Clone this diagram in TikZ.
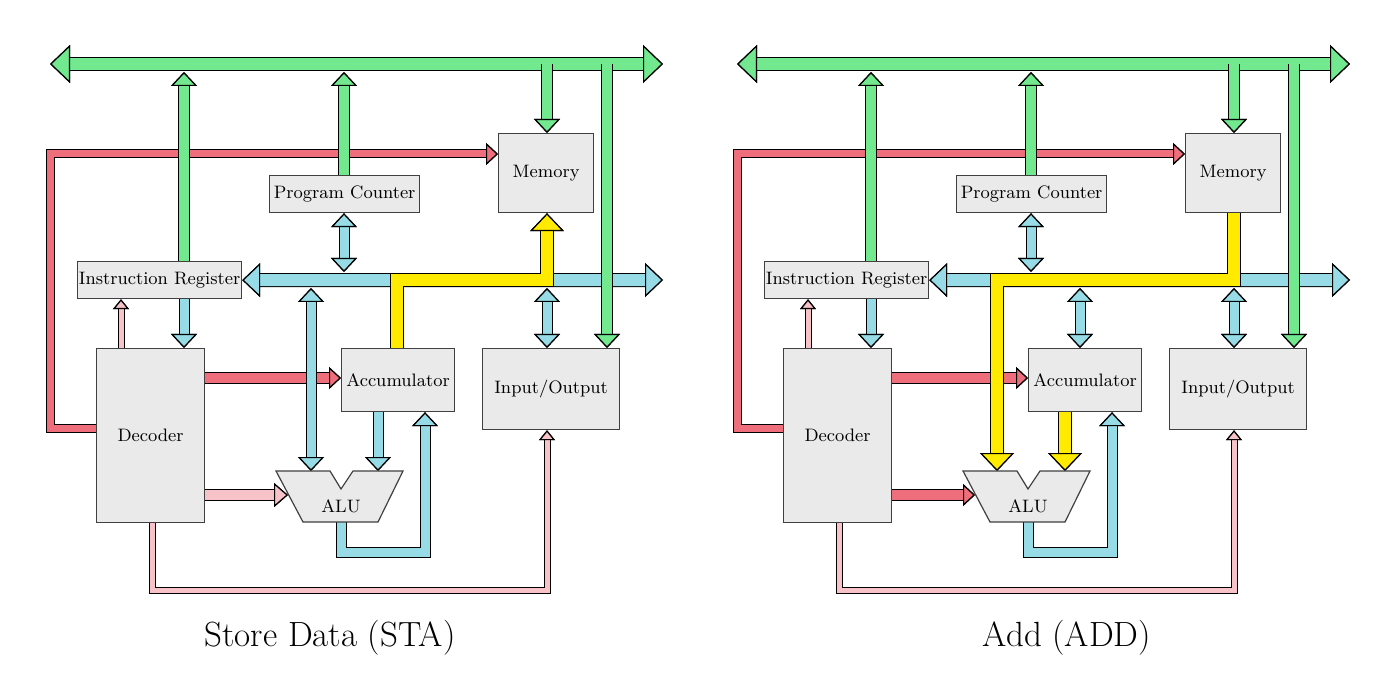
\documentclass[tikz,border=0pt]{standalone}
\usetikzlibrary{arrows.meta}
\definecolor{cg}{HTML}{72E88F}
\definecolor{cb}{HTML}{96DBE5}
\definecolor{cy}{HTML}{FFEA00}
\definecolor{cr}{HTML}{EE6E7C}
\definecolor{cp}{HTML}{F7C3C9}
\definecolor{bx}{HTML}{EAEAEA}
\begin{document}
\begin{tikzpicture}[x=0.5pt,y=-0.5pt,line cap=butt,line join=miter,
  ol/.style n args={3}{line width=#1+1pt,draw=black,>={Triangle[length=#2,width=#3,fill=black,color=black,line width=0.6pt]}},
  fl/.style n args={4}{line width=#1,draw=#4,>={Triangle[length=#2,width=#3,fill=#4,color=black,line width=0.6pt]}},
  box/.style={draw=black!75,fill=bx,line width=0.6pt,anchor=north west,inner sep=0pt,font=\fontsize{9}{10}\selectfont},
  ttl/.style={font=\fontsize{17.5}{20}\selectfont}]
\useasboundingbox (0,0) rectangle (1400,683);

\newcommand\pipes[5]{%
  \begin{scope}[ol={#1}{#2}{#3}]#5\end{scope}
  \begin{scope}[fl={#1}{#2}{#3}{#4}]#5\end{scope}}

% =========== LEFT : STA ===========
\begin{scope}
\node[box,minimum width=82pt,minimum height=18.5pt] (a-ir) at (77,261) {};
\node[box,minimum width=75pt,minimum height=18.5pt] (a-pc) at (269,175) {};
\node[box,minimum width=47.5pt,minimum height=39.5pt] (a-mem) at (498,133) {};
\node[box,minimum width=54pt,minimum height=87pt] (a-dec) at (96,348) {};
\node[box,minimum width=56.5pt,minimum height=31.5pt] (a-acc) at (341,348) {};
\node[box,minimum width=68.5pt,minimum height=40.5pt] (a-io) at (482,348) {};

\pipes{3.5pt}{6pt}{11pt}{cr}{
  \draw[->] (a-dec.west |- 0,428) -- (50,428) -- (50,154) -- (a-mem.west |- 0,154);}
\pipes{5pt}{6pt}{11pt}{cr}{\draw[->] (a-dec.east |- 0,378) -- (a-acc.west |- 0,378);}
\pipes{2.5pt}{5pt}{8pt}{cp}{
  \draw[->] (121,0 |- a-dec.north) -- (121,0 |- a-ir.south);
  \draw[->] (152,0 |- a-dec.south) -- (152,590) -- (547,590) -- (547,0 |- a-io.south);}
\pipes{5pt}{7pt}{12pt}{cp}{\draw[->] (a-dec.east |- 0,495) -- (288,495);}
\pipes{6pt}{9pt}{17pt}{cb}{\draw[<->] (a-ir.east) -- (663,280);}
\pipes{4.5pt}{7pt}{13pt}{cb}{
  \draw[<->] (344,0 |- a-pc.south) -- (344,272);
  \draw[->] (184,0 |- a-ir.south) -- (184,0 |- a-dec.north);
  \draw[<->] (311,288) -- (311,471);
  \draw[<->] (547,288) -- (547,0 |- a-io.north);
  \draw[->] (378,0 |- a-acc.south) -- (378,471);
  \draw[->] (341,522) -- (341,552) -- (425,552) -- (425,0 |- a-acc.south);}
\pipes{6pt}{10pt}{19pt}{cg}{\draw[<->] (50,64) -- (663,64);}
\pipes{5pt}{7pt}{13pt}{cg}{
  \draw[->] (184,0 |- a-ir.north) -- (184,72);
  \draw[->] (344,0 |- a-pc.north) -- (344,72);
  \draw[->] (547,64) -- (547,0 |- a-mem.north);
  \draw[->] (607,64) -- (607,0 |- a-io.north);}
\pipes{6pt}{9pt}{17pt}{cy}{
  \draw[->] (397,0 |- a-acc.north) -- (397,280) -- (547,280) -- (547,0 |- a-mem.south);}
\node[box,minimum width=82pt,minimum height=18.5pt] at (77,261) {Instruction Register};
\node[box,minimum width=75pt,minimum height=18.5pt] at (269,175) {Program Counter};
\node[box,minimum width=47.5pt,minimum height=39.5pt] at (498,133) {Memory};
\node[box,minimum width=54pt,minimum height=87pt] at (96,348) {Decoder};
\node[box,minimum width=56.5pt,minimum height=31.5pt] at (341,348) {Accumulator};
\node[box,minimum width=68.5pt,minimum height=40.5pt] at (482,348) {Input/Output};
\draw[draw=black!75,fill=bx,line width=0.6pt] (276,471) -- (330,471) -- (341,489) -- (353,471) -- (403,471) -- (378,522) -- (303,522) -- cycle;
\node[font=\fontsize{9}{10}\selectfont] (a-alut) at (341,506) {ALU};
\node[ttl] (a-title) at (330,638) {Store Data (STA)};
\end{scope}

% =========== RIGHT : ADD ===========
\begin{scope}[shift={(687,0)}]
\node[box,minimum width=82pt,minimum height=18.5pt] (b-ir) at (77,261) {};
\node[box,minimum width=75pt,minimum height=18.5pt] (b-pc) at (269,175) {};
\node[box,minimum width=47.5pt,minimum height=39.5pt] (b-mem) at (498,133) {};
\node[box,minimum width=54pt,minimum height=87pt] (b-dec) at (96,348) {};
\node[box,minimum width=56.5pt,minimum height=31.5pt] (b-acc) at (341,348) {};
\node[box,minimum width=68.5pt,minimum height=40.5pt] (b-io) at (482,348) {};

\pipes{3.5pt}{6pt}{11pt}{cr}{
  \draw[->] (b-dec.west |- 0,428) -- (50,428) -- (50,154) -- (b-mem.west |- 0,154);}
\pipes{5pt}{6pt}{11pt}{cr}{
  \draw[->] (b-dec.east |- 0,378) -- (b-acc.west |- 0,378);
  \draw[->] (b-dec.east |- 0,495) -- (288,495);}
\pipes{2.5pt}{5pt}{8pt}{cp}{
  \draw[->] (121,0 |- b-dec.north) -- (121,0 |- b-ir.south);
  \draw[->] (152,0 |- b-dec.south) -- (152,590) -- (547,590) -- (547,0 |- b-io.south);}
\pipes{6pt}{9pt}{17pt}{cb}{\draw[<->] (b-ir.east) -- (663,280);}
\pipes{4.5pt}{7pt}{13pt}{cb}{
  \draw[<->] (344,0 |- b-pc.south) -- (344,272);
  \draw[->] (184,0 |- b-ir.south) -- (184,0 |- b-dec.north);
  \draw[<->] (393,288) -- (393,0 |- b-acc.north);
  \draw[<->] (547,288) -- (547,0 |- b-io.north);
  \draw[->] (341,522) -- (341,552) -- (425,552) -- (425,0 |- b-acc.south);}
\pipes{6pt}{10pt}{19pt}{cg}{\draw[<->] (50,64) -- (663,64);}
\pipes{5pt}{7pt}{13pt}{cg}{
  \draw[->] (184,0 |- b-ir.north) -- (184,72);
  \draw[->] (344,0 |- b-pc.north) -- (344,72);
  \draw[->] (547,64) -- (547,0 |- b-mem.north);
  \draw[->] (607,64) -- (607,0 |- b-io.north);}
\pipes{6pt}{9pt}{17pt}{cy}{
  \draw[->] (547,0 |- b-mem.south) -- (547,280) -- (310,280) -- (310,471);
  \draw[->] (378,0 |- b-acc.south) -- (378,471);}
\node[box,minimum width=82pt,minimum height=18.5pt] at (77,261) {Instruction Register};
\node[box,minimum width=75pt,minimum height=18.5pt] at (269,175) {Program Counter};
\node[box,minimum width=47.5pt,minimum height=39.5pt] at (498,133) {Memory};
\node[box,minimum width=54pt,minimum height=87pt] at (96,348) {Decoder};
\node[box,minimum width=56.5pt,minimum height=31.5pt] at (341,348) {Accumulator};
\node[box,minimum width=68.5pt,minimum height=40.5pt] at (482,348) {Input/Output};
\draw[draw=black!75,fill=bx,line width=0.6pt] (276,471) -- (330,471) -- (341,489) -- (353,471) -- (403,471) -- (378,522) -- (303,522) -- cycle;
\node[font=\fontsize{9}{10}\selectfont] (b-alut) at (341,506) {ALU};
\node[ttl] (b-title) at (380,638) {Add (ADD)};
\end{scope}
\end{tikzpicture}
\end{document}
